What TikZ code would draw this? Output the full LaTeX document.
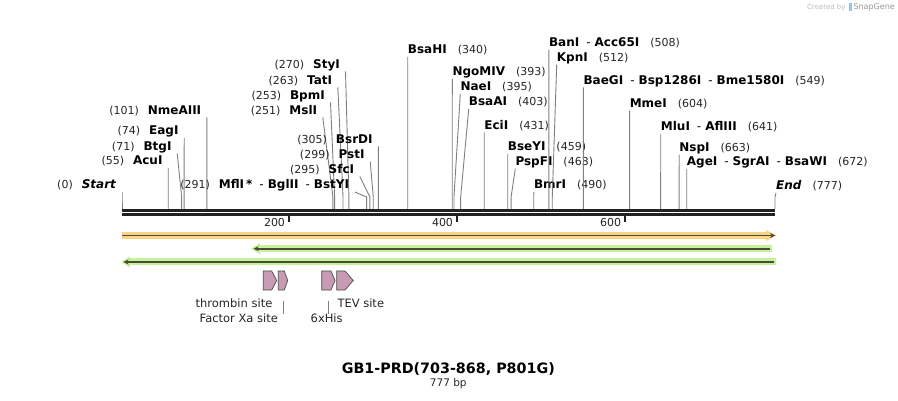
\documentclass[tikz,border=0pt]{standalone}
\usepackage{fontspec}
\setmainfont{DejaVu Sans}
\usetikzlibrary{arrows.meta}
\colorlet{leadcol}{black!50}
\colorlet{numcol}{black!85}
\definecolor{bbcol}{HTML}{222222}
\definecolor{orangeband}{HTML}{FAD384}
\definecolor{greenband}{HTML}{C6F39A}
\definecolor{featline}{HTML}{4B4B3E}
\definecolor{pinkfeat}{HTML}{C99AB4}
\definecolor{logoblue}{HTML}{8CC8F0}
\newcommand{\nm}[1]{{\fontsize{11}{12}\selectfont\mdseries\color{numcol}(#1)}}
\newcommand{\cutsep}{\hspace{7pt}{\mdseries-}\hspace{4pt}}
\tikzset{
  leader/.style={leadcol,line width=0.9pt},
  lsite/.style={anchor=base east,inner sep=0pt,font=\fontsize{12}{14}\selectfont\bfseries},
  rsite/.style={anchor=base west,inner sep=0pt,font=\fontsize{12}{14}\selectfont\bfseries},
  band/.style={line width=7pt},
  featbar/.style={featline,line width=1.8pt},
  featlabel/.style={inner sep=0pt,font=\fontsize{11.5}{13}\selectfont,text=black!85},
  pinkarrow/.style={fill=pinkfeat,draw=black!70,line width=0.7pt,line join=miter},
}

\begin{document}
\begin{tikzpicture}[x=1pt,y=-1pt]
  \def\xa{122}
  \def\xb{775}
  \def\sc{0.8404}
  \fill[white] (0,0) rectangle (898,401);
  \useasboundingbox (0,0) rectangle (898,401);

  % BACKBONE
  \draw[bbcol,line width=2.7pt] (\xa,210.4) -- (\xb,210.4);
  \draw[bbcol,line width=2.7pt] (\xa,214.2) -- (\xb,214.2);
  \foreach \t/\tx in {200/288.7,400/456.7,600/624.7}{
    \draw[bbcol,line width=2pt] (\tx,214) -- (\tx,222);
    \node[anchor=base east,inner sep=0pt,font=\fontsize{11}{12}\selectfont,text=numcol]
      (tick\t) at (\tx-3.5,226) {\t};
  }

  % CUT SITES, LEFT OF LINE
  \foreach \num/\name/\ex/\by in {
      0/{\textit{Start}}/116.5/189,
      55/AcuI/162.7/165,
      71/BtgI/171.7/150.5,
      74/EagI/178.7/135,
      101/NmeAIII/201.4/114.3,
      251/MslI/317.3/114.3,
      253/BpmI/325/99.3,
      263/TatI/332.3/84.3,
      270/StyI/340/68.3,
      291/{MflI\,*\cutsep BglII\cutsep BstYI}/349.3/189,
      295/SfcI/354.3/173.5,
      299/PstI/364.7/158.5,
      305/BsrDI/372.8/143.5}{
    \coordinate (s\num) at ({\xa+\num*\sc},209);
    \node[lsite] (l\num) at (\ex,\by) {\nm{\num}\hspace{9pt}\name};
    \draw[leader] (l\num.base east) ++(5.5,3) -- ([yshift=12pt]s\num) -- (s\num);
  }

  % CUT SITES, RIGHT OF LINE
  \foreach \num/\name/\lx/\by in {
      340/BsaHI/407.7/54,
      393/NgoMIV/452.3/76,
      395/NaeI/460.3/91,
      403/BsaAI/468.7/106,
      431/EciI/484.2/129.3,
      459/BseYI/507.7/151,
      463/PspFI/515.3/165.7,
      490/BmrI/533.8/189,
      508/{BanI\cutsep Acc65I}/548.9/46.7,
      512/KpnI/556.7/61.7,
      549/{BaeGI\cutsep Bsp1286I\cutsep Bme1580I}/583.4/84.3,
      604/MmeI/629.6/107.7,
      641/{MluI\cutsep AflIII}/660.7/131,
      663/NspI/679.2/151.7,
      672/{AgeI\cutsep SgrAI\cutsep BsaWI}/686.7/166,
      777/{\textit{End}}/776/190}{
    \coordinate (s\num) at ({\xa+\num*\sc},209);
    \node[rsite] (r\num) at (\lx,\by) {\name\hspace{11pt}\nm{\num}};
    \draw[leader] (r\num.base west) ++(0,3) -- ([yshift=12pt]s\num) -- (s\num);
  }

  % FEATURE BARS
  \draw[band,orangeband] (\xa,235.5) -- (768,235.5);
  \fill[orangeband] (766,230) -- (776.5,235.5) -- (766,241) -- cycle;
  \draw[featbar,-{Stealth[length=5pt,width=5pt]}] (\xa,235.5) -- (775,235.5);

  \draw[band,greenband] (258,248.7) -- (772,248.7);
  \fill[greenband] (260,243.2) -- (251,248.7) -- (260,254.2) -- cycle;
  \draw[featbar,-{Stealth[length=5pt,width=5pt]}] (770,248.7) -- (253.5,248.7);

  \draw[band,greenband] (128,262) -- (775.5,262);
  \fill[greenband] (130,256.5) -- (121,262) -- (130,267.5) -- cycle;
  \draw[featbar,-{Stealth[length=5pt,width=5pt]}] (774,262) -- (123.5,262);

  % SMALL FEATURES
  \foreach \a/\b/\c/\f in {263.3/271.7/276.7/thr,278.3/284.3/287.7/xa,
                           321.7/331/335/his,336.7/345/353.3/tev}{
    \draw[pinkarrow] (\a,271) -- (\b,271) -- (\c,280.5) -- (\b,290) -- (\a,290) -- cycle;
    \coordinate (\f A) at ({(\a+\c)/2},290);
  }
  \node[featlabel,anchor=base] (thrlab) at (234,307.3) {thrombin site};
  \node[featlabel,anchor=base west] (tevlab) at (337.3,307.3) {TEV site};
  \node[featlabel,anchor=base] (xalab) at (238.8,322.7) {Factor Xa site};
  \node[featlabel,anchor=base] (hislab) at (326.7,322.7) {6xHis};
  \draw[leader] (xaA) ++(0,10.5) -- (xaA |- xalab.north);
  \draw[leader] (hisA) ++(0,10.5) -- (hisA |- hislab.north);

  % TITLE
  \node[anchor=base,inner sep=0pt,font=\fontsize{14.3}{16}\selectfont\bfseries]
    (title) at (448.3,373.5) {GB1-PRD(703-868, P801G)};
  \node[anchor=base,inner sep=0pt,font=\fontsize{10.5}{12}\selectfont,text=numcol]
    (length) at (448.3,386.5) {777 bp};

  % CREDIT
  \node[anchor=east,inner sep=0pt,font=\fontsize{7}{8}\selectfont] (credit) at (895,7)
    {{\color{black!25}Created by}\hspace{3pt}{\color{logoblue}\rule[-1pt]{3pt}{8pt}}\hspace{2pt}{\fontsize{8}{9}\selectfont\color{black!40}SnapGene}};
\end{tikzpicture}
\end{document}
